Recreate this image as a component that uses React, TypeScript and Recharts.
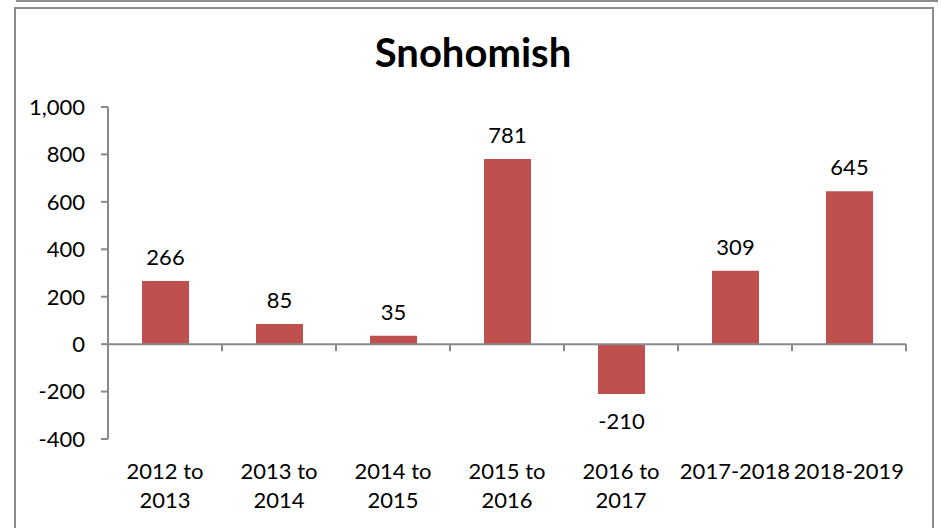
import React from "react";
import { BarChart, Bar, XAxis, YAxis, ReferenceLine, LabelList } from "recharts";

const categories = ["2012 to 2013", "2013 to 2014", "2014 to 2015", "2015 to 2016", "2016 to 2017", "2017-2018", "2018-2019"];
const values = [266, 85, 35, 781, -210, 309, 645];
const yTicks = [-400, -200, 0, 200, 400, 600, 800, 1000];

const data = categories.map((c, i) => ({ name: c, value: values[i] }));

const FONT = "Lato, 'Open Sans', sans-serif";
const AXIS_GRAY = "#8a8a8a";

const fmt = (v: number) => v.toLocaleString("en-US");

const XTick = (props: any) => {
  const { x, y, payload } = props;
  const s: string = payload.value;
  const lines = s.includes(" to ") ? [s.split(" to ")[0] + " to", s.split(" to ")[1]] : [s];
  return (
    <g>
      {lines.map((ln, i) => (
        <text key={i} x={x} y={y + 40 + i * 29} textAnchor="middle" fontFamily={FONT} fontSize={22} fill="#000">
          {ln}
        </text>
      ))}
    </g>
  );
};

const ValueLabel = (props: any) => {
  const { x, y, width, height, value } = props;
  const top = Math.min(y, y + height);
  const bottom = Math.max(y, y + height);
  const cx = x + width / 2;
  const by = value < 0 ? bottom + 35 : top - 16;
  return (
    <text x={cx} y={by} textAnchor="middle" fontFamily={FONT} fontSize={22} fill="#000">
      {value}
    </text>
  );
};

const ZeroAxis = (props: any) => {
  const { x1, y1, x2 } = props;
  const n = categories.length;
  const marks = [];
  for (let k = 1; k <= n; k++) {
    const xx = x1 + ((x2 - x1) * k) / n;
    marks.push(<line key={k} x1={xx} y1={y1} x2={xx} y2={y1 + 7} stroke={AXIS_GRAY} strokeWidth={2} />);
  }
  return (
    <g>
      <line x1={x1} y1={y1} x2={x2} y2={y1} stroke={AXIS_GRAY} strokeWidth={2} />
      {marks}
    </g>
  );
};

export default function App() {
  return (
    <div style={{ position: "absolute", left: 0, top: 0, width: 941, height: 528, background: "#fff", overflow: "hidden" }}>
      <div style={{ position: "absolute", left: 16, top: 0, width: 922, height: 1.5, background: "#8c8c8c" }} />
      <div
        style={{
          position: "absolute",
          left: 14,
          top: 7,
          width: 916,
          height: 540,
          border: "2px solid #8c8c8c",
        }}
      />
      <div
        style={{
          position: "absolute",
          left: 14,
          width: 918,
          top: 27,
          textAlign: "center",
          fontFamily: FONT,
          fontWeight: 700,
          fontSize: 40,
          lineHeight: "50px",
          color: "#000",
        }}
      >
        Snohomish
      </div>
      <div style={{ position: "absolute", left: 0, top: 0 }}>
        <BarChart width={941} height={528} data={data} margin={{ top: 107, right: 35, bottom: 29, left: 48 }} barSize={47}>
          <YAxis
            width={60}
            domain={[-400, 1000]}
            ticks={yTicks}
            interval={0}
            tickFormatter={fmt}
            axisLine={{ stroke: AXIS_GRAY, strokeWidth: 2 }}
            tickLine={{ stroke: AXIS_GRAY, strokeWidth: 2 }}
            tickSize={7}
            tickMargin={16}
            tick={{ fontFamily: FONT, fontSize: 22, fill: "#000" }}
          />
          <XAxis
            dataKey="name"
            height={60}
            axisLine={false}
            tickLine={false}
            tickSize={0}
            tickMargin={0}
            interval={0}
            tick={<XTick />}
          />
          <ReferenceLine y={0} shape={<ZeroAxis />} ifOverflow="visible" />
          <Bar dataKey="value" fill="#C0504D" isAnimationActive={false}>
            <LabelList dataKey="value" content={<ValueLabel />} />
          </Bar>
        </BarChart>
      </div>
    </div>
  );
}
